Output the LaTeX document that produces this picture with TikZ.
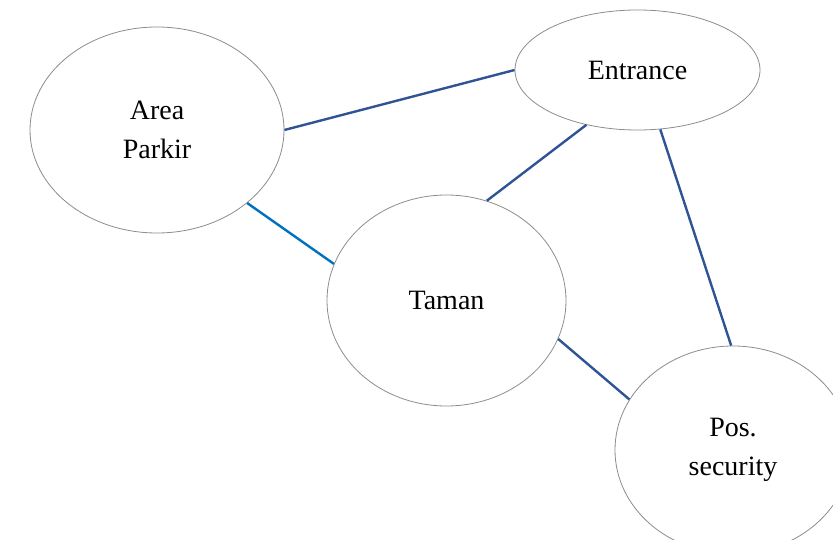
\documentclass[tikz,border=0pt]{standalone}
\usepackage{fontspec}
\setmainfont{Liberation Serif}
\usetikzlibrary{shapes.geometric}
\definecolor{darklink}{RGB}{47,84,150}
\definecolor{lightlink}{RGB}{0,112,192}

\begin{document}
\begin{tikzpicture}[x=1pt, y=-1pt,
                every node/.style={ellipse, draw=black!45, line width=0.8pt, inner sep=0pt,
                  align=center, font=\fontsize{28}{39}\selectfont},
                edge_style/.style={draw=darklink, line width=2.4pt},
                edge_light/.style={draw=lightlink, line width=2.4pt}]
                \useasboundingbox (0,0) rectangle (833,540);
                \node[minimum width=254pt, minimum height=206pt] (parkir) at (157,130) {Area\\Parkir};
                \node[minimum width=245pt, minimum height=120pt] (entrance) at (637.5,70) {Entrance};
                \node[minimum width=239pt, minimum height=211pt] (taman) at (446.5,300.5) {Taman};
                \node[minimum width=236pt, minimum height=208pt] (pos) at (733,450) {Pos.\\security};
                \draw[edge_style] (parkir.0) edge (entrance.180) {};
                \draw[edge_light] (parkir.-39) edge (taman.162) {};
                \draw[edge_style] (taman.68) edge (entrance.-133) {};
                \draw[edge_style] (entrance.-69) edge (pos.91) {};
                \draw[edge_style] (taman.-19) edge (pos.154) {};
            \end{tikzpicture}
\end{document}
